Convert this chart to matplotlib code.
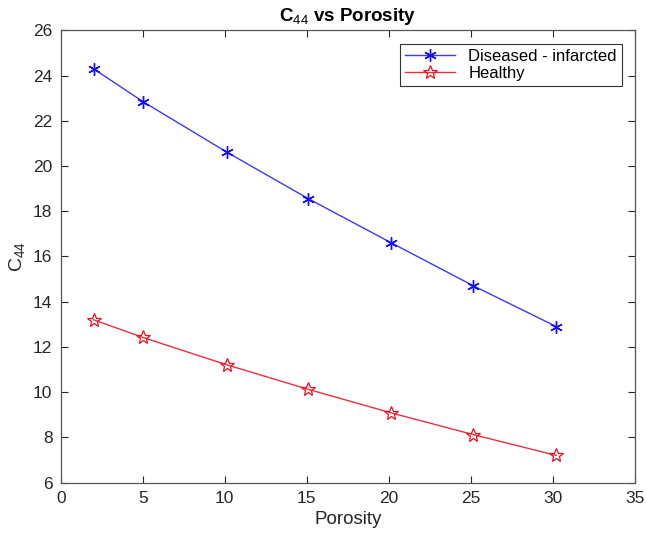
import matplotlib
matplotlib.use('Agg')
import matplotlib.pyplot as plt

plt.rcParams['font.family'] = ['Liberation Sans', 'DejaVu Sans']
plt.rcParams['mathtext.fontset'] = 'custom'
plt.rcParams['mathtext.rm'] = 'Liberation Sans'
plt.rcParams['mathtext.it'] = 'Liberation Sans'
plt.rcParams['mathtext.bf'] = 'Liberation Sans:bold'

porosity = [2, 5, 10.15, 15.1, 20.15, 25.15, 30.2]
diseased = [24.3, 22.85, 20.6, 18.55, 16.6, 14.7, 12.9]
healthy = [13.2, 12.42, 11.2, 10.12, 9.08, 8.12, 7.2]

xticks = [0, 5, 10, 15, 20, 25, 30, 35]
yticks = [6, 8, 10, 12, 14, 16, 18, 20, 22, 24, 26]

edge = '#262626'

fig = plt.figure(figsize=(6.46, 5.41), dpi=100)
ax = fig.add_axes([0.094, 0.108, 0.889, 0.836])

ax.plot(porosity, diseased, color='#3a3aee', lw=1.0, marker=(6, 2, 0),
        ms=9, mec='#1010ff', mew=1.0, label='Diseased - infarcted')
ax.plot(porosity, healthy, color='#e8303c', lw=1.0, marker='*',
        ms=10, mfc='none', mec='#ee1020', mew=0.9, label='Healthy')

ax.set_xlim(0, 35)
ax.set_ylim(6, 26)
ax.set_xticks(xticks)
ax.set_yticks(yticks)
ax.tick_params(direction='in', top=True, right=True, length=5, width=0.8,
               labelsize=12.5, colors=edge, pad=6)
for s in ax.spines.values():
    s.set_color('#555555')
    s.set_linewidth(0.9)

ax.set_title('C$_{44}$ vs Porosity', fontsize=13.5, fontweight='bold', pad=7)
ax.set_xlabel('Porosity', fontsize=13.5, color=edge)
ax.set_ylabel('C$_{44}$', fontsize=14, color=edge)

leg = ax.legend(loc='upper right', fontsize=12, fancybox=False,
                framealpha=1, edgecolor='#333333', borderpad=0.3,
                handlelength=3.0, labelspacing=0.15, borderaxespad=0.8)
leg.get_frame().set_linewidth(0.8)

fig.savefig('out.png', dpi=100)
